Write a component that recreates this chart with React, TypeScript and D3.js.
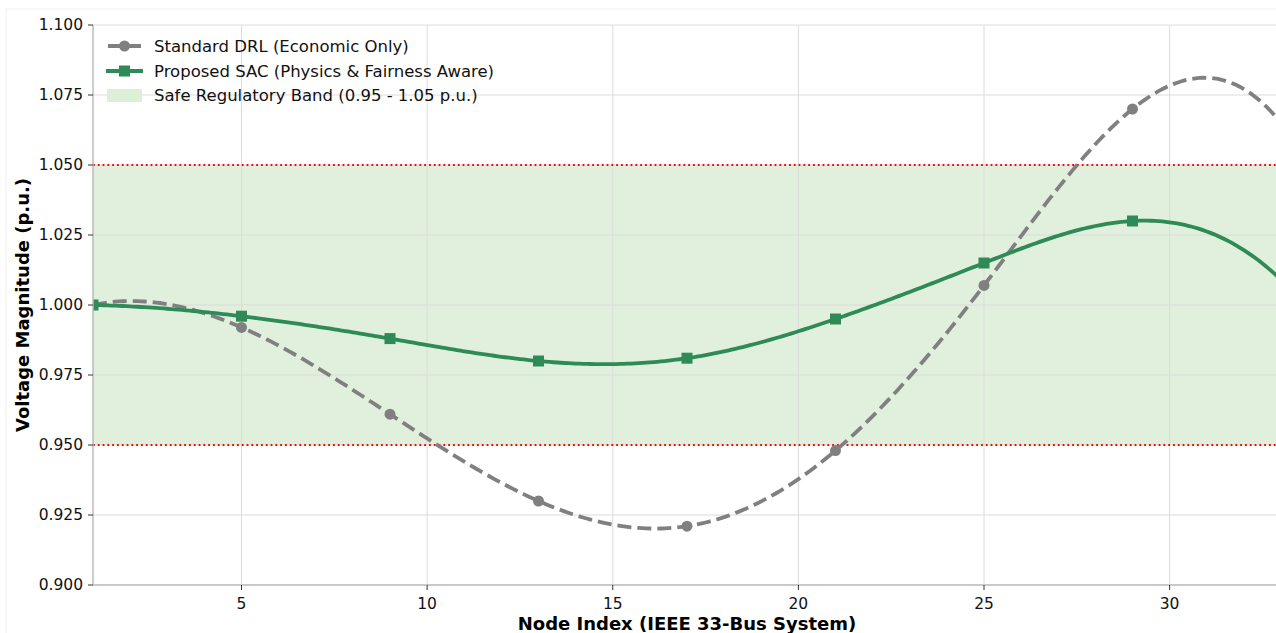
import React from "react";
import * as d3 from "d3";

const nodes = [1, 5, 9, 13, 17, 21, 25, 29, 33];
const drlValues = [1.0, 0.992, 0.961, 0.93, 0.921, 0.948, 1.007, 1.07, 1.065];
const sacValues = [1.0, 0.996, 0.988, 0.98, 0.981, 0.995, 1.015, 1.03, 1.009];
const markerNodes = nodes.slice(0, 8);
const xTicks = [5, 10, 15, 20, 25, 30];
const yTicks = [0.9, 0.925, 0.95, 0.975, 1.0, 1.025, 1.05, 1.075, 1.1];
const bandLow = 0.95;
const bandHigh = 1.05;
const legendLabels = [
  "Standard DRL (Economic Only)",
  "Proposed SAC (Physics & Fairness Aware)",
  "Safe Regulatory Band (0.95 - 1.05 p.u.)",
];

const W = 1276;
const H = 633;
const left = 93;
const right = 1281;
const top = 25;
const bottom = 585;
const FONT = "DejaVu Sans, sans-serif";
const GREEN = "#2e8b57";
const GREY = "#808080";

// not-a-knot cubic spline (as scipy make_interp_spline)
function spline(xs: number[], ys: number[]) {
  const n = xs.length;
  const h = xs.slice(1).map((v, i) => v - xs[i]);
  const A: number[][] = Array.from({ length: n }, () => new Array(n).fill(0));
  const b = new Array(n).fill(0);
  A[0][0] = 1 / h[0];
  A[0][1] = -1 / h[0] - 1 / h[1];
  A[0][2] = 1 / h[1];
  for (let i = 1; i < n - 1; i++) {
    A[i][i - 1] = h[i - 1];
    A[i][i] = 2 * (h[i - 1] + h[i]);
    A[i][i + 1] = h[i];
    b[i] = 6 * ((ys[i + 1] - ys[i]) / h[i] - (ys[i] - ys[i - 1]) / h[i - 1]);
  }
  A[n - 1][n - 3] = 1 / h[n - 3];
  A[n - 1][n - 2] = -1 / h[n - 3] - 1 / h[n - 2];
  A[n - 1][n - 1] = 1 / h[n - 2];
  for (let c = 0; c < n; c++) {
    let p = c;
    for (let r = c + 1; r < n; r++) if (Math.abs(A[r][c]) > Math.abs(A[p][c])) p = r;
    [A[c], A[p]] = [A[p], A[c]];
    [b[c], b[p]] = [b[p], b[c]];
    for (let r = c + 1; r < n; r++) {
      const f = A[r][c] / A[c][c];
      for (let k = c; k < n; k++) A[r][k] -= f * A[c][k];
      b[r] -= f * b[c];
    }
  }
  const M = new Array(n).fill(0);
  for (let r = n - 1; r >= 0; r--) {
    let s = b[r];
    for (let k = r + 1; k < n; k++) s -= A[r][k] * M[k];
    M[r] = s / A[r][r];
  }
  return (x: number) => {
    let i = 0;
    while (i < n - 2 && x > xs[i + 1]) i++;
    const hi = h[i];
    const a = xs[i + 1] - x;
    const c = x - xs[i];
    return (
      (M[i] * a * a * a) / (6 * hi) +
      (M[i + 1] * c * c * c) / (6 * hi) +
      (ys[i] / hi - (M[i] * hi) / 6) * a +
      (ys[i + 1] / hi - (M[i + 1] * hi) / 6) * c
    );
  };
}

export default function App() {
  const x = d3.scaleLinear().domain([1, 33]).range([left, right]);
  const y = d3.scaleLinear().domain([0.9, 1.1]).range([bottom, top]);
  const line = d3
    .line<[number, number]>()
    .x((d) => x(d[0]))
    .y((d) => y(d[1]));
  const grid = d3.range(1, 33.001, 0.1);
  const fDrl = spline(nodes, drlValues);
  const fSac = spline(nodes, sacValues);
  const drlCurve: [number, number][] = grid.map((g) => [g, fDrl(g)]);
  const sacCurve: [number, number][] = grid.map((g) => [g, fSac(g)]);
  const drl: [number, number][] = markerNodes.map((n, i) => [n, drlValues[i]]);
  const sac: [number, number][] = markerNodes.map((n, i) => [n, sacValues[i]]);

  return (
    <svg
      width={W}
      height={H}
      style={{ position: "absolute", left: 0, top: 0, background: "#fff" }}
      fontFamily={FONT}
    >
      <defs>
        <clipPath id="plot">
          <rect x={left} y={top - 10} width={right - left} height={bottom - top + 10} />
        </clipPath>
      </defs>
      <rect x={6} y={9} width={W} height={H} fill="none" stroke="#f0f0f0" />
      <rect
        x={left}
        y={y(bandHigh)}
        width={right - left}
        height={y(bandLow) - y(bandHigh)}
        fill="#e0f0dc"
      />
      {xTicks.map((t) => (
        <line key={"gx" + t} x1={x(t)} x2={x(t)} y1={top} y2={bottom} stroke="#dcdcdc" strokeWidth={1} />
      ))}
      {yTicks.map((t) => (
        <line key={"gy" + t} x1={left} x2={right} y1={y(t)} y2={y(t)} stroke="#dcdcdc" strokeWidth={1} />
      ))}
      {[bandLow, bandHigh].map((v) => (
        <line
          key={"b" + v}
          x1={left}
          x2={right}
          y1={y(v)}
          y2={y(v)}
          stroke="#ff0000"
          strokeWidth={1.8}
          strokeDasharray="1.8,3"
        />
      ))}
      <g clipPath="url(#plot)">
        <path d={line(drlCurve) || ""} fill="none" stroke={GREY} strokeWidth={3.8} strokeDasharray="14,6" />
        {drl.map((d, i) => (
          <circle key={"c" + i} cx={x(d[0])} cy={y(d[1])} r={5.5} fill={GREY} />
        ))}
        <path d={line(sacCurve) || ""} fill="none" stroke={GREEN} strokeWidth={3.8} />
        {sac.map((d, i) => (
          <rect key={"s" + i} x={x(d[0]) - 5.5} y={y(d[1]) - 5.5} width={11} height={11} fill={GREEN} />
        ))}
      </g>
      <line x1={left} x2={left} y1={top} y2={bottom} stroke="#bdbdbd" strokeWidth={1.5} />
      <line x1={left} x2={right} y1={bottom} y2={bottom} stroke="#bdbdbd" strokeWidth={1.5} />
      {yTicks.map((t) => (
        <g key={"ty" + t}>
          <line x1={left - 5} x2={left} y1={y(t)} y2={y(t)} stroke="#333" strokeWidth={1} />
          <text x={left - 10} y={y(t)} dy="0.35em" textAnchor="end" fontSize={15.5} fill="#111">
            {t.toFixed(3)}
          </text>
        </g>
      ))}
      {xTicks.map((t) => (
        <g key={"tx" + t}>
          <line x1={x(t)} x2={x(t)} y1={bottom} y2={bottom + 5} stroke="#333" strokeWidth={1} />
          <text x={x(t)} y={bottom + 24} textAnchor="middle" fontSize={15.5} fill="#111">
            {t}
          </text>
        </g>
      ))}
      <text x={687} y={630} textAnchor="middle" fontSize={18} fontWeight="bold" fill="#000">
        Node Index (IEEE 33-Bus System)
      </text>
      <text
        transform={`translate(29,${(top + bottom) / 2}) rotate(-90)`}
        textAnchor="middle"
        fontSize={18}
        fontWeight="bold"
        fill="#000"
      >
        Voltage Magnitude (p.u.)
      </text>
      <g fontSize={16.5} fill="#111">
        <line x1={108} x2={141} y1={46} y2={46} stroke={GREY} strokeWidth={3.8} />
        <circle cx={124.5} cy={46} r={5.5} fill={GREY} />
        <text x={154} y={46} dy="0.35em">{legendLabels[0]}</text>
        <line x1={106} x2={143} y1={71} y2={71} stroke={GREEN} strokeWidth={3.8} />
        <rect x={119} y={65.5} width={11} height={11} fill={GREEN} />
        <text x={154} y={71} dy="0.35em">{legendLabels[1]}</text>
        <rect x={107} y={89} width={35} height={13} fill="#dcf0d8" />
        <text x={154} y={95} dy="0.35em">{legendLabels[2]}</text>
      </g>
    </svg>
  );
}
